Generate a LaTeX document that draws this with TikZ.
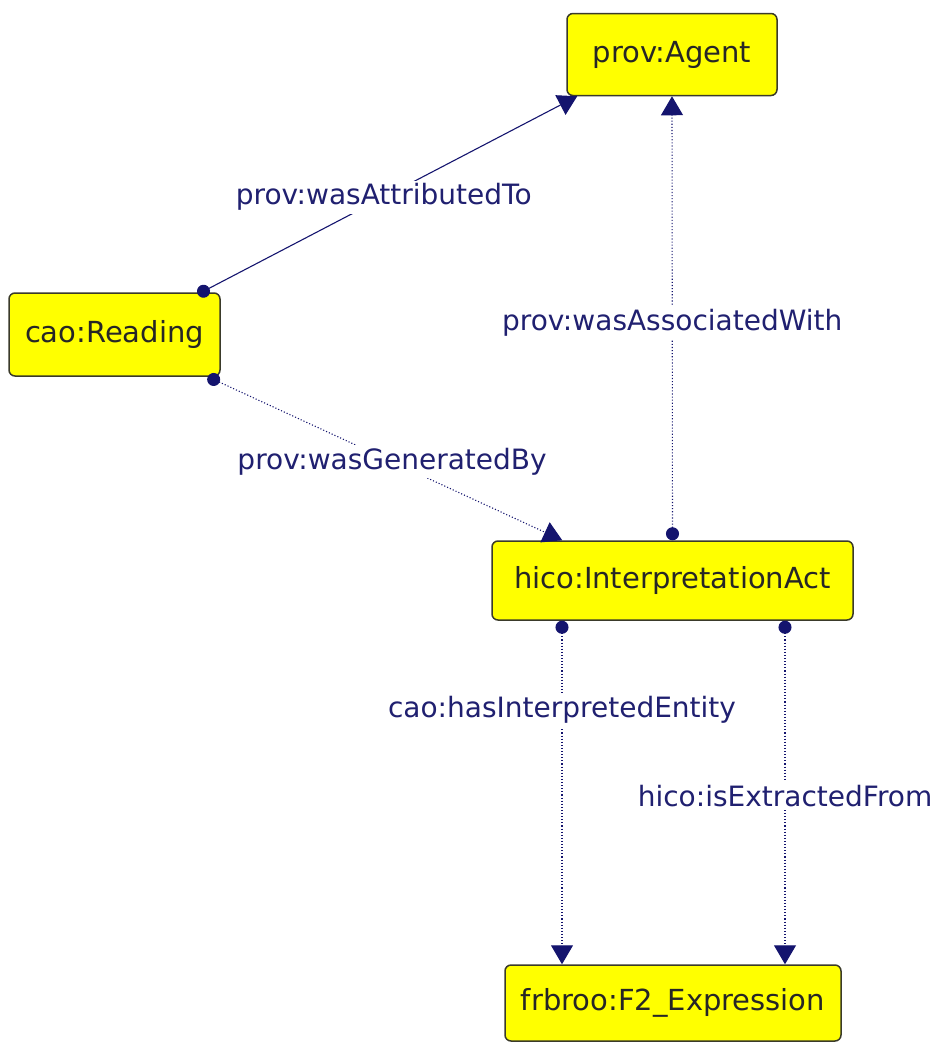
\documentclass[tikz,border=0pt]{standalone}
\usepackage{fontspec}
\setmainfont{DejaVu Sans}
\usetikzlibrary{arrows.meta}
\definecolor{navy}{HTML}{14146E}
\definecolor{boxfill}{HTML}{FFFF00}
\definecolor{boxline}{HTML}{3A3A2A}
\definecolor{lbl}{HTML}{202070}
\tikzset{
  cls/.style={draw=boxline, fill=boxfill, line width=1.5pt, rounded corners=6pt,
    text=black!85, font=\fontsize{29}{33}\selectfont, inner sep=0pt, anchor=center},
  rel/.style={navy, line width=1.1pt, {Circle[length=13pt]}-{Triangle[width=22pt,length=19pt]}},
  dotrel/.style={rel, dotted},
  lab/.style={text=lbl, font=\fontsize{28}{32}\selectfont, fill=white, inner sep=3pt}
}
\begin{document}
\begin{tikzpicture}[x=1pt,y=-1pt]
\useasboundingbox (0,0) rectangle (940,1045);
\node[cls, minimum width=210pt, minimum height=82pt] (agent) at (672,54.5) {prov:Agent};
\node[cls, minimum width=211pt, minimum height=83pt] (read) at (114.5,334.5) {cao:Reading};
\node[cls, minimum width=361pt, minimum height=79pt] (ia) at (672.5,580.5) {hico:InterpretationAct};
\node[cls, minimum width=336pt, minimum height=76pt] (f2) at (673,1003) {frbroo:F2\_Expression};

\draw[rel] ([xshift=-23pt,yshift=-2pt]read.north east) -- node[lab, pos=0.49]{prov:wasAttributedTo} ([xshift=11pt]agent.south west);
\draw[dotrel] ([xshift=-13pt]read.south east) -- node[lab, pos=0.52]{prov:wasGeneratedBy} ([xshift=71pt]ia.north west);
\draw[dotrel] (ia.north) -- node[lab, pos=0.49]{prov:wasAssociatedWith} (agent.south);
\draw[dotrel] ([xshift=-110.5pt]ia.south) -- node[lab, pos=0.26]{cao:hasInterpretedEntity} ([xshift=-111pt]f2.north);
\draw[dotrel] ([xshift=112.5pt]ia.south) -- node[lab, pos=0.51]{hico:isExtractedFrom} ([xshift=112pt]f2.north);
\end{tikzpicture}
\end{document}
